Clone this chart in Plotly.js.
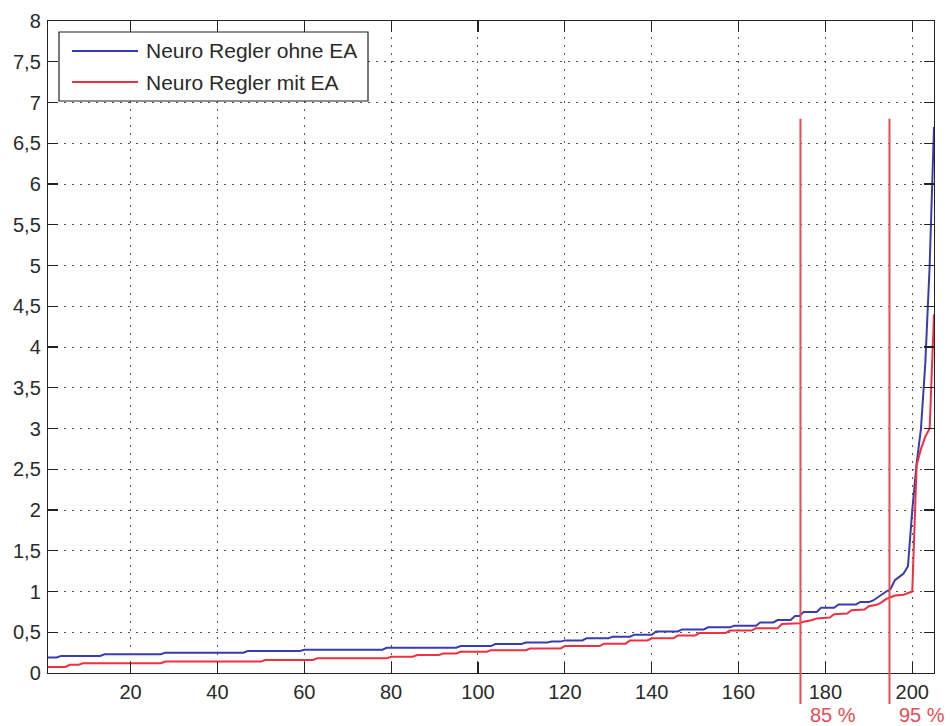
<!DOCTYPE html>
<html>
<head>
<meta charset="utf-8">
<script src="https://cdn.plot.ly/plotly-3.0.1.min.js"></script>
<style>
  html, body { margin: 0; padding: 0; background: #ffffff; }
  #chart { width: 950px; height: 726px; }
</style>
</head>
<body>
<div id="chart"></div>
<script>
// Sorted control error per test case (sample index -> value)
const seriesNames = ['Neuro Regler ohne EA', 'Neuro Regler mit EA'];

const idxOhneEA = [1, 3, 4, 13, 14, 27, 28, 46, 47, 59, 60, 78, 79, 95, 96, 103, 104, 110,
  111, 116, 117, 119, 120, 124, 125, 130, 131, 135, 136, 140, 141, 146, 147, 152, 153, 158,
  159, 164, 165, 168, 169, 172, 173, 174, 175, 178, 179, 182, 183, 187, 188, 190, 191, 192,
  193, 194, 195, 196, 197, 198, 199, 200, 201, 202, 203, 204, 205];
const valOhneEA = [0.19, 0.19, 0.21, 0.21, 0.23, 0.23, 0.25, 0.25, 0.27, 0.27, 0.285, 0.285,
  0.31, 0.31, 0.33, 0.33, 0.355, 0.355, 0.375, 0.375, 0.385, 0.385, 0.40, 0.40, 0.425, 0.425,
  0.445, 0.445, 0.47, 0.47, 0.51, 0.51, 0.535, 0.535, 0.56, 0.56, 0.58, 0.58, 0.62, 0.62,
  0.65, 0.65, 0.70, 0.70, 0.75, 0.75, 0.80, 0.80, 0.84, 0.84, 0.87, 0.87, 0.89, 0.93,
  0.97, 1.00, 1.03, 1.14, 1.18, 1.22, 1.31, 2.00, 2.57, 3.00, 3.80, 5.00, 6.70];

const idxMitEA = [1, 5, 6, 8, 9, 27, 28, 50, 51, 62, 63, 79, 80, 85, 86, 91, 92, 95, 96, 102,
  103, 111, 112, 119, 120, 128, 129, 134, 135, 139, 140, 145, 146, 150, 151, 157, 158, 163,
  164, 169, 170, 174, 175, 177, 178, 181, 182, 185, 186, 189, 190, 192, 193, 194, 195, 196,
  198, 199, 200, 201, 202, 203, 204, 205];
const valMitEA = [0.075, 0.075, 0.10, 0.10, 0.12, 0.12, 0.14, 0.14, 0.16, 0.16, 0.18, 0.18,
  0.20, 0.20, 0.22, 0.22, 0.24, 0.24, 0.26, 0.26, 0.28, 0.28, 0.30, 0.30, 0.33, 0.33, 0.36,
  0.36, 0.40, 0.40, 0.425, 0.425, 0.46, 0.46, 0.49, 0.49, 0.52, 0.52, 0.55, 0.55, 0.60, 0.61,
  0.63, 0.65, 0.67, 0.68, 0.72, 0.73, 0.77, 0.78, 0.82, 0.84, 0.87, 0.91, 0.93, 0.95, 0.96,
  0.98, 1.00, 2.55, 2.75, 2.90, 3.00, 4.40];

// Percentile markers over the number of test cases
const sampleCount = 205;
const percentMarks = [85, 95];
const percentTop = 6.8;

const xTickVals = [20, 40, 60, 80, 100, 120, 140, 160, 180, 200];
const yTickVals = [0, 0.5, 1, 1.5, 2, 2.5, 3, 3.5, 4, 4.5, 5, 5.5, 6, 6.5, 7, 7.5, 8];
const yTickText = ['0', '0,5', '1', '1,5', '2', '2,5', '3', '3,5', '4', '4,5', '5', '5,5',
  '6', '6,5', '7', '7,5', '8'];

const colorOhne = '#3b3bb0';
const colorMit = '#f03040';
const markColor = '#f04a50';
const textColor = '#2a2a2a';
const fontFamily = '"Liberation Sans", Arial, sans-serif';

const traces = [
  { x: idxOhneEA, y: valOhneEA, name: seriesNames[0], type: 'scatter', mode: 'lines',
    line: { color: colorOhne, width: 2 }, showlegend: false },
  { x: idxMitEA, y: valMitEA, name: seriesNames[1], type: 'scatter', mode: 'lines',
    line: { color: colorMit, width: 2 }, showlegend: false }
];

// Plot-area geometry in pixels, used to place the paper-referenced items
const M = { l: 48, r: 16, t: 21, b: 53 };
const W = 950, H = 726;
const pw = W - M.l - M.r, ph = H - M.t - M.b;
const px2paperX = p => (p - M.l) / pw;
const px2paperY = p => 1 - (p - M.t) / ph;

const shapes = [];
const annotations = [];

// Vertical percentile lines, running below the x axis
percentMarks.forEach((p, i) => {
  const xPos = sampleCount * p / 100;
  shapes.push({ type: 'line', xref: 'x', yref: 'paper', x0: xPos, x1: xPos,
    y0: px2paperY(704), y1: percentTop / 8, line: { color: markColor, width: 2 }, layer: 'above' });
  annotations.push({ xref: 'x', yref: 'paper', x: xPos, y: px2paperY(715), xanchor: 'left',
    yanchor: 'middle', xshift: 8, showarrow: false, text: p + ' %',
    font: { family: fontFamily, size: 20, color: markColor } });
});

// Legend box
shapes.push({ type: 'rect', xref: 'paper', yref: 'paper', x0: px2paperX(59), x1: px2paperX(368),
  y0: px2paperY(101), y1: px2paperY(32), fillcolor: '#ffffff',
  line: { color: '#222222', width: 1.2 }, layer: 'above' });
const legendRows = [51, 82];
const legendColors = [colorOhne, colorMit];
legendRows.forEach((row, i) => {
  shapes.push({ type: 'line', xref: 'paper', yref: 'paper', x0: px2paperX(72), x1: px2paperX(138),
    y0: px2paperY(row), y1: px2paperY(row), line: { color: legendColors[i], width: 2 }, layer: 'above' });
  annotations.push({ xref: 'paper', yref: 'paper', x: px2paperX(144), y: px2paperY(row),
    xanchor: 'left', yanchor: 'middle', showarrow: false, text: seriesNames[i],
    font: { family: fontFamily, size: 21, color: textColor } });
});

const axisCommon = {
  showline: true, mirror: 'ticks', linecolor: '#222222', linewidth: 1.2,
  ticks: 'inside', tickcolor: '#222222', tickwidth: 1.2,
  showgrid: true, gridcolor: '#555555', gridwidth: 1, griddash: '2px,6px',
  zeroline: false, tickfont: { family: fontFamily, size: 20, color: textColor }
};

const layout = {
  width: W, height: H,
  margin: M,
  paper_bgcolor: '#ffffff', plot_bgcolor: '#ffffff',
  showlegend: false,
  xaxis: Object.assign({}, axisCommon, {
    range: [1, 205], tickvals: xTickVals, ticklen: 11, ticklabelstandoff: 1
  }),
  yaxis: Object.assign({}, axisCommon, {
    range: [0, 8], tickvals: yTickVals, ticktext: yTickText, ticklen: 10, ticklabelstandoff: 2
  }),
  shapes: shapes,
  annotations: annotations
};

Plotly.newPlot('chart', traces, layout, { displayModeBar: false, staticPlot: true });
</script>
</body>
</html>
